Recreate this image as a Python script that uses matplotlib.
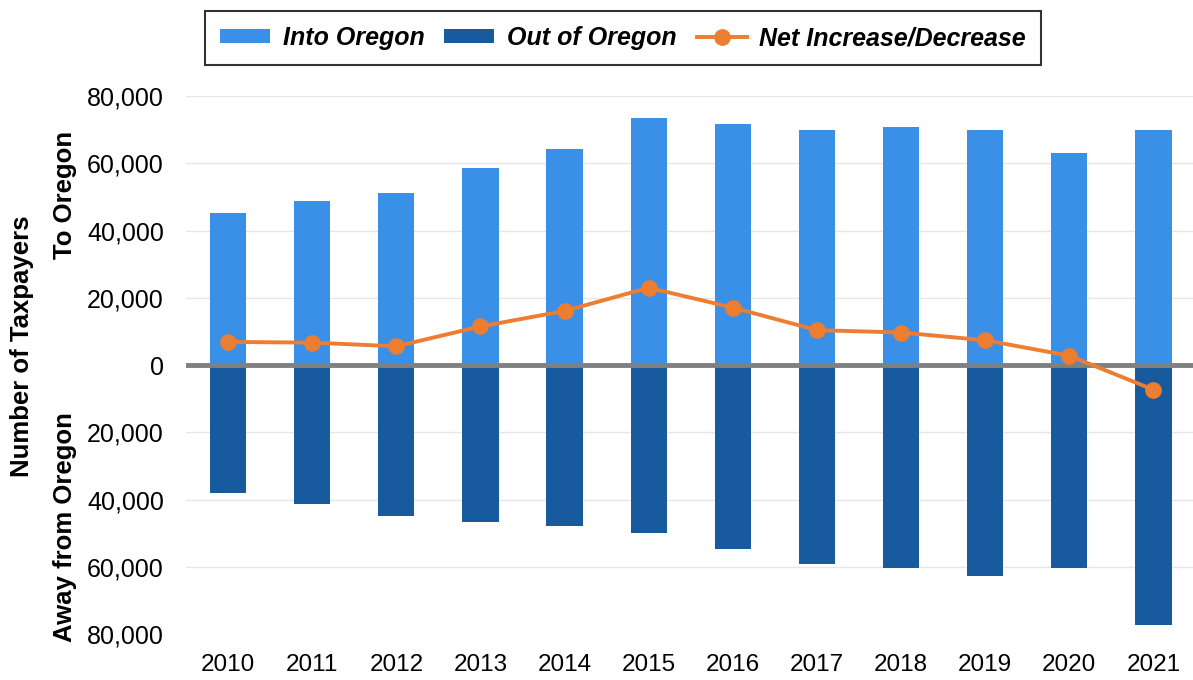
import matplotlib.pyplot as plt
from matplotlib.ticker import FuncFormatter
import numpy as np

plt.rcParams['font.family'] = ['Liberation Sans', 'DejaVu Sans']

years = ['2010', '2011', '2012', '2013', '2014', '2015',
         '2016', '2017', '2018', '2019', '2020', '2021']
into_oregon = [45300, 48900, 51100, 58500, 64200, 73400,
               71700, 70000, 70700, 70000, 63100, 70000]
out_of_oregon = [37900, 41400, 44800, 46500, 47700, 50000,
                 54700, 59100, 60300, 62800, 60300, 77100]
net_change = [6900, 6700, 5600, 11500, 16100, 23000,
              17100, 10400, 9700, 7400, 2800, -7300]

c_into = '#3A8FE6'
c_out = '#175A9E'
c_net = '#ED7D31'

fig = plt.figure(figsize=(11.93, 6.8), dpi=100)
ax = fig.add_axes([186 / 1193, 1 - 634.3 / 680, (1193 - 186) / 1193, (634.3 - 96) / 680])

x = np.arange(len(years))
w = 0.43
b1 = ax.bar(x, into_oregon, width=w, color=c_into, label='Into Oregon', zorder=2)
b2 = ax.bar(x, [-v for v in out_of_oregon], width=w, color=c_out, label='Out of Oregon', zorder=2)
ax.axhline(0, color='#808080', lw=3.5, zorder=3)
ln, = ax.plot(x, net_change, color=c_net, lw=2.8, marker='o', markersize=11,
              label='Net Increase/Decrease', zorder=4)

ax.set_xlim(-0.5, 11.47)
ax.set_ylim(-80000, 80000)
ax.set_yticks(np.arange(-80000, 80001, 20000))
ax.yaxis.set_major_formatter(FuncFormatter(lambda v, p: f'{abs(int(v)):,}'))
ax.set_xticks(x)
ax.set_xticklabels(years)
ax.tick_params(axis='y', length=0, labelsize=18, colors='black', pad=16)
ax.tick_params(axis='x', length=0, labelsize=17.5, colors='black', pad=14)
ax.grid(axis='y', color='#e6e6e6', lw=1, zorder=0)
ax.set_axisbelow(True)
for s in ax.spines.values():
    s.set_visible(False)

# axis titles
fig.text(22 / 1193, 1 - 346 / 680, 'Number of Taxpayers', rotation=90,
         ha='center', va='center', fontsize=18.5, fontweight='bold')
fig.text(65 / 1193, 1 - 195 / 680, 'To Oregon', rotation=90,
         ha='center', va='center', fontsize=18.5, fontweight='bold')
fig.text(65 / 1193, 1 - 527 / 680, 'Away from Oregon', rotation=90,
         ha='center', va='center', fontsize=18.5, fontweight='bold')

leg = fig.legend(handles=[b1, b2, ln], loc='center',
                 bbox_to_anchor=(623 / 1193, 1 - 38 / 680), ncol=3,
                 frameon=True, fancybox=False, edgecolor='black', borderpad=0.6,
                 handlelength=2.0, handleheight=0.5, columnspacing=0.8,
                 handletextpad=0.5,
                 prop={'size': 18, 'weight': 'bold', 'style': 'italic'})
leg.get_frame().set_linewidth(1.5)

fig.savefig('out.png', dpi=100)
